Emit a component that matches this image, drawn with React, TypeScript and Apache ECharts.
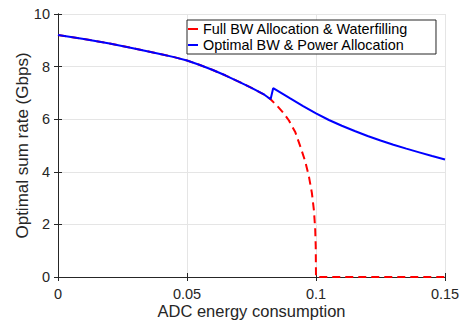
import React, { useEffect, useRef } from "react";
import * as echarts from "echarts";

const optimalX = [0, 0.01, 0.02, 0.03, 0.04, 0.045, 0.05, 0.055, 0.06, 0.065, 0.07, 0.075, 0.08, 0.0824, 0.0834, 0.09, 0.095, 0.1, 0.105, 0.11, 0.115, 0.12, 0.125, 0.13, 0.135, 0.14, 0.145, 0.15];
const optimalY = [9.2, 9.05, 8.88, 8.68, 8.47, 8.36, 8.23, 8.06, 7.87, 7.66, 7.43, 7.19, 6.93, 6.76, 7.18, 6.79, 6.5, 6.22, 5.97, 5.75, 5.55, 5.36, 5.19, 5.03, 4.88, 4.74, 4.6, 4.47];

const fullBwX = [0, 0.01, 0.02, 0.03, 0.04, 0.045, 0.05, 0.055, 0.06, 0.065, 0.07, 0.075, 0.08, 0.0824, 0.085, 0.0876, 0.0895, 0.092, 0.094, 0.0958, 0.0973, 0.0984, 0.0992, 0.0997, 0.0999, 0.1, 0.15];
const fullBwY = [9.2, 9.05, 8.88, 8.68, 8.47, 8.36, 8.23, 8.06, 7.87, 7.66, 7.43, 7.19, 6.93, 6.76, 6.5, 6.21, 5.95, 5.5, 4.94, 4.4, 3.8, 3.2, 2.53, 1.8, 1.14, 0, 0];

const xTicks = { min: 0, max: 0.15, interval: 0.05 };
const yTicks = { min: 0, max: 10, interval: 2 };

const seriesNames = ["Full BW Allocation & Waterfilling", "Optimal BW & Power Allocation"];

const FONT = "'Liberation Sans', Arial, Helvetica, sans-serif";
const AXIS_COLOR = "#262626";

export default function App() {
  const ref = useRef<HTMLDivElement>(null);
  useEffect(() => {
    if (!ref.current) return;
    const chart = echarts.init(ref.current, undefined, { renderer: "svg" });
    const pairs = (xs: number[], ys: number[]) => xs.map((x, i) => [x, ys[i]]);
    const baseAxis = {
      axisLine: { show: true, lineStyle: { color: AXIS_COLOR, width: 1 } },
      axisTick: { show: true, inside: true, length: 4, lineStyle: { color: AXIS_COLOR } },
    };
    chart.setOption({
      animation: false,
      backgroundColor: "#ffffff",
      textStyle: { fontFamily: FONT },
      grid: { left: 58, right: 16, top: 14, bottom: 43, containLabel: false, outerBoundsMode: "none" },
      legend: {
        show: true,
        left: 187,
        top: 20,
        orient: "vertical",
        backgroundColor: "#ffffff",
        borderColor: AXIS_COLOR,
        borderWidth: 1,
        borderRadius: 0,
        padding: [2, 28, 2, 1],
        icon: "rect",
        itemWidth: 10,
        itemHeight: 2,
        itemGap: 2,
        textStyle: { fontFamily: FONT, fontSize: 14.4, color: "#000", padding: [0, 0, 0, 0] },
        data: seriesNames,
      },
      xAxis: [
        {
          type: "value",
          ...xTicks,
          ...baseAxis,
          axisLabel: { color: AXIS_COLOR, fontSize: 14.5, fontFamily: FONT, margin: 9 },
          splitLine: { show: true, lineStyle: { color: "#e5e5e5", width: 1 } },
          name: "ADC energy consumption",
          nameLocation: "middle",
          nameGap: 25,
          nameMoveOverlap: false,
          nameTextStyle: { color: AXIS_COLOR, fontSize: 16.5, fontFamily: FONT },
        },
        {
          type: "value",
          position: "top",
          ...xTicks,
          ...baseAxis,
          axisLabel: { show: false },
          splitLine: { show: false },
        },
      ],
      yAxis: [
        {
          type: "value",
          ...yTicks,
          ...baseAxis,
          axisLabel: { color: AXIS_COLOR, fontSize: 14.5, fontFamily: FONT, margin: 8 },
          splitLine: { show: true, lineStyle: { color: "#e5e5e5", width: 1 } },
          name: "Optimal sum rate (Gbps)",
          nameLocation: "middle",
          nameGap: 27,
          nameMoveOverlap: false,
          nameTextStyle: { color: AXIS_COLOR, fontSize: 17, fontFamily: FONT },
        },
        {
          type: "value",
          position: "right",
          ...yTicks,
          ...baseAxis,
          axisLabel: { show: false },
          splitLine: { show: false },
        },
      ],
      series: [
        {
          name: seriesNames[0],
          type: "line",
          data: pairs(fullBwX, fullBwY),
          showSymbol: false,
          symbol: "none",
          lineStyle: { color: "#ff0000", width: 2, type: [8, 5] },
          itemStyle: { color: "#ff0000" },
          z: 3,
        },
        {
          name: seriesNames[1],
          type: "line",
          data: pairs(optimalX, optimalY),
          showSymbol: false,
          symbol: "none",
          lineStyle: { color: "#0000ff", width: 2 },
          itemStyle: { color: "#0000ff" },
          z: 4,
        },
      ],
    });
    return () => chart.dispose();
  }, []);
  return (
    <div
      ref={ref}
      style={{ position: "fixed", left: 0, top: 0, width: 461, height: 320, background: "#fff" }}
    />
  );
}
